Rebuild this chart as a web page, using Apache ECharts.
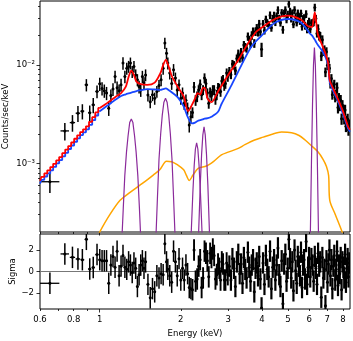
<!DOCTYPE html>
<html>
<head>
<meta charset="utf-8">
<script src="https://cdn.jsdelivr.net/npm/echarts@6/dist/echarts.min.js"></script>
<style>
  html, body { margin: 0; padding: 0; background: #fff; }
  #chart { width: 353px; height: 341px; }
</style>
</head>
<body>
<div id="chart"></div>
<script>
// spectrum bins: centre energy (keV), half width (keV), rate (1e-3 counts/sec/keV), error, residual (sigma)
var energy = [
  0.653, 0.742, 0.792, 0.830, 0.862, 0.892, 0.918, 0.946, 0.977,
  1.00, 1.02, 1.04, 1.06, 1.08, 1.10, 1.12, 1.14, 1.16, 1.18, 1.20, 1.22, 1.24, 1.26, 1.28, 1.30, 1.32, 1.34, 1.36, 1.38, 1.40, 1.42, 1.44, 1.46, 1.48,
  1.51, 1.54, 1.57, 1.60, 1.63, 1.66, 1.69, 1.72, 1.745, 1.77, 1.79, 1.82, 1.85, 1.88, 1.91, 1.94, 1.97, 2.00, 2.03, 2.06, 2.09, 2.12, 2.15, 2.18,
  2.21, 2.24, 2.27, 2.30, 2.33, 2.36, 2.39, 2.42, 2.45, 2.48, 2.51, 2.54, 2.57, 2.60, 2.63, 2.66, 2.69, 2.72, 2.75, 2.78, 2.81, 2.84, 2.87, 2.90, 2.93, 2.96, 2.99,
  3.03, 3.07, 3.11, 3.15, 3.19, 3.23, 3.27, 3.31, 3.35, 3.39, 3.43, 3.47, 3.51, 3.55, 3.59, 3.63, 3.67, 3.71, 3.75, 3.79, 3.83, 3.87, 3.91, 3.95, 3.99,
  4.04, 4.09, 4.14, 4.19, 4.24, 4.29, 4.34, 4.39, 4.44, 4.49, 4.54, 4.59, 4.64, 4.69, 4.74, 4.79, 4.84, 4.89, 4.94, 4.99,
  5.04, 5.09, 5.14, 5.19, 5.24, 5.29, 5.34, 5.39, 5.44, 5.49, 5.54, 5.59, 5.64, 5.69, 5.74, 5.79, 5.84, 5.89, 5.94, 5.99,
  6.05, 6.11, 6.17, 6.23, 6.29, 6.35, 6.41, 6.47, 6.53, 6.59, 6.65, 6.71, 6.77, 6.83, 6.89, 6.95, 7.01, 7.07, 7.13, 7.19, 7.25,
  7.31, 7.37, 7.43, 7.49, 7.55, 7.61, 7.67, 7.73, 7.79, 7.85, 7.91, 7.97, 8.03, 8.09, 8.15, 8.21, 8.27, 8.33, 8.39, 8.45
];
var eHalf = [
  0.055, 0.027, 0.018, 0.016, 0.014, 0.013, 0.012, 0.013, 0.014,
  0.01, 0.01, 0.01, 0.01, 0.01, 0.01, 0.01, 0.01, 0.01, 0.01, 0.01, 0.01, 0.01, 0.01, 0.01, 0.01, 0.01, 0.01, 0.01, 0.01, 0.01, 0.01, 0.01, 0.01, 0.01,
  0.013, 0.013, 0.013, 0.013, 0.013, 0.013, 0.013, 0.013, 0.013, 0.013, 0.013, 0.013, 0.013, 0.013, 0.013, 0.013, 0.013, 0.013, 0.013, 0.013, 0.013, 0.013, 0.013, 0.013,
  0.012, 0.012, 0.012, 0.012, 0.012, 0.012, 0.012, 0.012, 0.012, 0.012, 0.012, 0.012, 0.012, 0.012, 0.012, 0.012, 0.012, 0.012, 0.012, 0.012, 0.012, 0.012, 0.012, 0.012, 0.012, 0.012, 0.012,
  0.015, 0.015, 0.015, 0.015, 0.015, 0.015, 0.015, 0.015, 0.015, 0.015, 0.015, 0.015, 0.015, 0.015, 0.015, 0.015, 0.015, 0.015, 0.015, 0.015, 0.015, 0.015, 0.015, 0.015, 0.015,
  0.02, 0.02, 0.02, 0.02, 0.02, 0.02, 0.02, 0.02, 0.02, 0.02, 0.02, 0.02, 0.02, 0.02, 0.02, 0.02, 0.02, 0.02, 0.02, 0.02,
  0.02, 0.02, 0.02, 0.02, 0.02, 0.02, 0.02, 0.02, 0.02, 0.02, 0.02, 0.02, 0.02, 0.02, 0.02, 0.02, 0.02, 0.02, 0.02, 0.02,
  0.025, 0.025, 0.025, 0.025, 0.025, 0.025, 0.025, 0.025, 0.025, 0.025, 0.025, 0.025, 0.025, 0.025, 0.025, 0.025, 0.025, 0.025, 0.025, 0.025, 0.025,
  0.025, 0.025, 0.025, 0.025, 0.025, 0.025, 0.025, 0.025, 0.025, 0.025, 0.025, 0.025, 0.025, 0.025, 0.025, 0.025, 0.025, 0.025, 0.025, 0.025
];
var counts = [
  0.65, 2.14, 2.6, 3.24, 3.4, 6.3, 3.28, 3.94, 5.4,
  6.45, 5.8, 5.5, 5.2, 3.64, 4.9, 5.7, 7.65, 5.9, 5.5, 6.3, 10.5, 7.65, 9.3, 9.7, 10.5, 8.6, 9.7, 7.95, 7.1, 6.05, 5.6, 7.65, 6.6, 7.95,
  4.97, 4.25, 5.0, 4.6, 5.4, 6.2, 7.1, 9.3, 16.8, 13.2, 10.5, 8.3, 6.5, 9.0, 7.4, 5.6, 6.3, 4.6, 5.2, 4.1, 4.4, 3.64, 2.46, 2.98,
  3.3, 6.0, 4.4, 4.8, 5.6, 6.4, 5.0, 5.6, 7.4, 6.5, 5.2, 4.1, 5.3, 4.9, 5.6, 5.6, 4.5, 5.0, 5.9, 5.8, 5.4, 6.9, 7.1, 6.2, 6.5, 8.3, 7.65,
  8.7, 8.0, 10.3, 10.0, 8.8, 11.7, 13.1, 11.8, 13.6, 11.9, 16.0, 15.3, 14.9, 19.6, 18.1, 16.6, 20.1, 22.0, 16.7, 22.0, 23.9, 21.7, 26.3, 21.9, 14.5,
  26.4, 22.5, 29.3, 26.9, 25.8, 32.3, 24.1, 29.7, 32.1, 27.5, 31.6, 36.4, 29.9, 27.1, 34.1, 23.0, 33.7, 36.4, 29.3, 32.8,
  42.0, 35.2, 29.9, 33.9, 26.1, 36.5, 30.9, 27.3, 33.8, 30.9, 28.2, 33.7, 24.7, 29.6, 30.3, 25.3, 33.2, 23.2, 26.4, 27.9,
  23.3, 26.9, 26.9, 27.4, 38.7, 29.8, 21.0, 23.4, 20.0, 19.6, 12.4, 18.1, 13.9, 14.3, 8.5, 13.7, 10.0, 10.8, 9.3, 6.5, 7.3,
  5.0, 6.0, 6.4, 4.7, 5.0, 5.9, 3.7, 4.6, 3.9, 4.4, 2.84, 3.9, 3.5, 2.86, 3.5, 2.39, 2.7, 2.83, 2.2, 2.48
];
var countErr = [
  0.15, 0.43, 0.5, 0.6, 0.6, 0.9, 0.6, 0.7, 0.8,
  1.0, 0.9, 0.85, 0.8, 0.6, 0.75, 0.85, 1.1, 0.9, 0.85, 0.95, 1.5, 1.1, 1.3, 1.35, 1.45, 1.2, 1.35, 1.1, 1.0, 0.9, 0.85, 1.1, 0.95, 1.1,
  0.7, 0.6, 0.7, 0.65, 0.75, 0.85, 1.0, 1.3, 2.2, 1.8, 1.45, 1.15, 0.9, 1.25, 1.0, 0.8, 0.85, 0.65, 0.72, 0.6, 0.62, 0.52, 0.4, 0.45,
  0.42, 0.75, 0.55, 0.6, 0.65, 0.75, 0.6, 0.65, 0.85, 0.75, 0.6, 0.5, 0.63, 0.58, 0.65, 0.65, 0.55, 0.6, 0.68, 0.68, 0.64, 0.8, 0.82, 0.72, 0.76, 0.95, 0.88,
  0.87, 0.8, 1.0, 1.0, 0.88, 1.15, 1.3, 1.2, 1.35, 1.2, 1.6, 1.5, 1.5, 1.9, 1.8, 1.65, 2.0, 2.2, 1.7, 2.2, 2.3, 2.15, 2.6, 2.2, 2.4,
  2.4, 2.0, 2.6, 2.4, 2.3, 2.9, 2.2, 2.7, 2.9, 2.5, 2.8, 3.3, 2.7, 2.4, 3.1, 2.1, 3.0, 3.3, 2.6, 3.0,
  3.6, 3.2, 2.7, 3.0, 2.3, 3.3, 2.8, 2.5, 3.0, 2.8, 2.5, 3.0, 2.2, 2.7, 2.7, 2.3, 3.0, 2.1, 2.4, 2.5,
  2.1, 2.4, 2.4, 2.5, 3.5, 2.7, 1.9, 2.6, 2.2, 2.2, 1.4, 2.0, 1.5, 1.6, 0.95, 1.5, 1.1, 1.2, 1.0, 0.72, 0.8,
  0.55, 0.66, 0.7, 0.52, 0.65, 0.77, 0.48, 0.6, 0.5, 0.57, 0.37, 0.5, 0.45, 0.37, 0.45, 0.31, 0.35, 0.37, 0.29, 0.32
];
var sigma = [
  -1.1, 1.64, 1.32, 1.17, 1.1, 3.0, 0.23, 0.38, 1.58,
  1.1, 1.0, 1.0, 1.0, -1.1, 0.6, 1.4, 0.4, 1.9, -0.4, 0.5, 1.5, 0.4, 0.2, 0.9, 0.6, -0.1, 0.8, 0.3, -1.4, -0.3, 0.6, 1.0, 0.3, 0.9,
  -1.2, -2.45, -1.6, -1.9, -0.4, -0.6, -0.2, -0.3, 2.6, 0.9, 0.2, -0.4, -1.0, 1.9, 0.9, -0.4, 1.2, -0.8, 0.3, -0.8, 0.6, -0.2, -1.5, -1.6,
  -1.7, 2.0, -0.9, -0.7, 0.5, 1.1, -1.5, -0.6, 1.9, 1.7, 1.0, -0.5, 1.7, 1.3, 2.1, 1.5, -0.7, -0.3, 0.7, 0.3, -0.8, 0.9, 0.7, -0.8, -0.8, 0.8, -0.3,
  0.5, -0.8, 1.2, 0.3, -1.4, 0.9, 1.6, -0.2, 0.7, -1.1, 1.3, 0.2, -0.6, 1.8, 0.4, -0.9, 0.6, 1.1, -1.9, 0.3, 0.8, -0.4, 1.4, -0.7, -3.4,
  0.8, -1.2, 1.5, 0.2, -0.5, 1.9, -1.6, 0.4, 1.1, -0.8, 0.6, 2.2, -0.3, -1.4, 1.0, -3.0, 0.7, 1.6, -0.9, 0.3,
  3.0, 1.2, -0.6, 0.9, -1.8, 2.0, 0.1, -1.1, 1.4, 0.5, -0.4, 1.8, -1.5, 0.6, 1.1, -0.7, 2.8, -1.2, 0.4, 1.3,
  -0.5, 1.2, 0.6, -0.9, 1.4, 0.3, -1.2, 1.7, 0.5, 0.9, -2.4, 1.3, -0.6, 0.2, -3.2, 1.0, -1.0, 0.7, 2.0, -0.4, 1.1,
  -1.6, 0.5, 1.5, -0.8, 0.2, 1.9, -1.3, 0.6, -0.2, 1.3, -1.7, 0.9, 0.4, -0.6, 1.6, -1.0, 0.3, 1.2, -0.5, 0.8
];

// model components (1e-3 counts/sec/keV)
var modelE = [0.60, 0.615, 0.63, 0.647, 0.663, 0.68, 0.698, 0.716, 0.735, 0.754, 0.773, 0.793, 0.814, 0.835, 0.856, 0.878, 0.90, 0.925, 0.95, 0.975, 1.0,
  1.05, 1.1, 1.15, 1.2, 1.25, 1.28, 1.31, 1.34, 1.37, 1.42, 1.5, 1.6, 1.68, 1.72, 1.76, 1.8, 1.85, 1.95, 2.05, 2.13, 2.2, 2.26, 2.31, 2.36, 2.41, 2.45, 2.52, 2.6, 2.75,
  3.0, 3.27, 3.56, 3.82, 3.99, 4.47, 5.01, 5.6, 6.03, 6.15, 6.22, 6.29, 6.36, 6.46, 6.7, 6.9, 7.05, 7.15, 7.4, 7.7, 8.0, 8.37, 8.5];
var totalModel = [0.665, 0.73, 0.79, 0.85, 0.916, 0.99, 1.07, 1.16, 1.27, 1.38, 1.50, 1.63, 1.78, 1.93, 2.08, 2.22, 2.38, 2.65, 2.95, 3.3, 3.66,
  4.0, 4.4, 4.8, 5.2, 6.05, 7.6, 8.8, 7.9, 6.8, 6.4, 6.3, 6.65, 8.3, 10.0, 11.3, 9.8, 7.8, 6.0, 4.8, 3.4, 3.94, 4.6, 5.2, 5.0, 5.8, 5.9, 4.5, 4.2, 5.4,
  7.95, 11.3, 16.8, 22.0, 24.0, 29.5, 31.9, 29.0, 24.5, 24.5, 29.0, 34.4, 28.0, 20.5, 16.0, 13.0, 10.5, 7.0, 5.6, 4.4, 3.4, 2.36, 2.2];
var contE = [0.60, 0.615, 0.63, 0.647, 0.663, 0.68, 0.698, 0.716, 0.735, 0.754, 0.773, 0.793, 0.814, 0.835, 0.856, 0.878, 0.90, 0.925, 0.95, 0.975, 1.0,
  1.05, 1.1, 1.15, 1.2, 1.25, 1.28, 1.31, 1.34, 1.37, 1.42, 1.5, 1.6, 1.68, 1.72, 1.76, 1.8, 1.85, 1.95, 2.05, 2.13, 2.2, 2.26, 2.31, 2.36, 2.41, 2.45, 2.52, 2.6, 2.75,
  2.83, 3.09, 3.36, 3.66, 3.99, 4.47, 5.01, 5.6, 6.03, 6.15, 6.22, 6.29, 6.36, 6.46, 6.7, 6.9, 7.05, 7.15, 7.4, 7.7, 8.0, 8.37, 8.5];
var continuum = [0.62, 0.68, 0.735, 0.79, 0.85, 0.92, 1.0, 1.08, 1.18, 1.28, 1.4, 1.52, 1.66, 1.8, 1.94, 2.07, 2.22, 2.47, 2.75, 3.07, 3.4,
  3.75, 4.1, 4.5, 4.85, 5.05, 5.15, 5.25, 5.35, 5.45, 5.55, 5.7, 5.65, 5.6, 5.7, 5.8, 5.6, 5.3, 4.7, 3.8, 2.9, 2.55, 2.6, 2.7, 2.75, 2.8, 2.85, 2.88, 2.98, 3.35,
  4.0, 6.3, 10.0, 15.5, 20.0, 27.0, 29.5, 27.0, 21.0, 20.0, 19.0, 18.2, 17.2, 16.0, 14.0, 12.0, 10.0, 6.7, 5.3, 4.2, 3.2, 2.25, 2.1];
var reflE = [0.95, 1.0, 1.09, 1.19, 1.3, 1.41, 1.5, 1.58, 1.67, 1.77, 1.85, 1.95, 2.05, 2.1, 2.15, 2.22, 2.32, 2.49, 2.65, 2.83, 3.0, 3.27, 3.46, 3.76,
  4.05, 4.34, 4.73, 5.16, 5.5, 5.79, 6.1, 6.46, 6.75, 6.95, 7.08, 7.15, 7.5, 7.95, 8.5];
var reflection = [0.15, 0.2, 0.3, 0.42, 0.51, 0.6, 0.68, 0.76, 0.86, 1.05, 1.04, 0.96, 0.86, 0.75, 0.67, 0.76, 0.89, 0.94, 1.05, 1.22, 1.3, 1.42, 1.55, 1.73,
  1.85, 1.97, 2.08, 2.05, 1.92, 1.73, 1.52, 1.31, 1.1, 0.93, 0.75, 0.42, 0.3, 0.2, 0.12];
var lineE = [
  [1.181, 1.206, 1.223, 1.239, 1.257, 1.274, 1.292, 1.31, 1.328, 1.347, 1.365, 1.385, 1.404, 1.423, 1.453],
  [1.583, 1.616, 1.638, 1.660, 1.684, 1.707, 1.731, 1.755, 1.779, 1.804, 1.829, 1.855, 1.880, 1.906, 1.946],
  [2.118, 2.156, 2.187, 2.217, 2.243, 2.266, 2.29, 2.314, 2.338, 2.366, 2.398, 2.432, 2.476],
  [2.257, 2.298, 2.330, 2.362, 2.390, 2.415, 2.44, 2.465, 2.491, 2.521, 2.555, 2.591, 2.638],
  [5.919, 6.002, 6.057, 6.113, 6.169, 6.220, 6.27, 6.321, 6.372, 6.431, 6.490, 6.550, 6.642]
];
var lineFlux = [
  [0.02, 0.15, 0.35, 0.75, 1.3, 1.9, 2.6, 2.83, 2.6, 1.9, 1.3, 0.75, 0.35, 0.15, 0.02],
  [0.02, 0.17, 0.45, 1.1, 2.0, 3.1, 4.2, 4.6, 4.2, 3.1, 2.0, 1.1, 0.45, 0.17, 0.02],
  [0.01, 0.05, 0.2, 0.5, 0.95, 1.4, 1.62, 1.4, 0.95, 0.5, 0.2, 0.05, 0.01],
  [0.01, 0.06, 0.2, 0.6, 1.25, 1.95, 2.36, 1.95, 1.25, 0.6, 0.2, 0.06, 0.01],
  [0.01, 0.06, 0.2, 1.0, 4.0, 10.0, 15.1, 10.0, 4.0, 1.0, 0.2, 0.06, 0.01]
];

// axes
var eMin = 0.6, eMax = 8.5;
var rateMin = 2e-4, rateMax = 4.5e-2;
var eLabels = [0.6, 0.8, 1, 2, 3, 4, 5, 6, 7, 8];
var eMinorTicks = [0.6, 0.7, 0.8, 0.9, 2, 3, 4, 5, 6, 7, 8];
var eMajorTicks = [1];
var rateMajor = [1e-3, 1e-2];
var rateMinor = [3e-4, 4e-4, 5e-4, 6e-4, 7e-4, 8e-4, 9e-4, 2e-3, 3e-3, 4e-3, 5e-3, 6e-3, 7e-3, 8e-3, 9e-3, 2e-2, 3e-2, 4e-2];
var sigmaTicks = [-2, 0, 2];

function lg(v) { return Math.log(v) / Math.LN10; }

var pts = [], res = [];
for (var i = 0; i < energy.length; i++) {
  var e = energy[i], c = counts[i] * 1e-3, ce = countErr[i] * 1e-3, de = eHalf[i];
  pts.push([lg(e), lg(c), lg(e - de), lg(e + de), lg(Math.max(c - ce, 1e-6)), lg(c + ce)]);
  res.push([lg(e), sigma[i], lg(e - de), lg(e + de), sigma[i] - 1, sigma[i] + 1]);
}

function curve(es, vs, lo, hi) {
  var out = [];
  for (var k = 0; k < es.length; k++) {
    if (es[k] >= lo && es[k] <= hi) out.push([lg(es[k]), lg(vs[k] * 1e-3)]);
  }
  return out;
}

// error bars; the crowded high-energy bins get a slightly heavier stroke
function errBar(params, api) {
  var p = api.coord([api.value(0), api.value(1)]);
  var xl = api.coord([api.value(2), api.value(1)]);
  var xh = api.coord([api.value(3), api.value(1)]);
  var yl = api.coord([api.value(0), api.value(4)]);
  var yh = api.coord([api.value(0), api.value(5)]);
  var w = api.value(0) > lg(3.0) ? 2.2 : (api.value(0) > lg(2.2) ? 1.9 : 1.5);
  return {
    type: 'group',
    children: [
      { type: 'line', shape: { x1: xl[0], y1: p[1], x2: xh[0], y2: p[1] }, style: { stroke: '#000', lineWidth: 1.3 } },
      { type: 'line', shape: { x1: p[0], y1: yl[1], x2: p[0], y2: yh[1] }, style: { stroke: '#000', lineWidth: w } },
      { type: 'circle', shape: { cx: p[0], cy: p[1], r: 1.5 }, style: { fill: '#000' } }
    ]
  };
}

var font = 'DejaVu Sans';
var txt = { color: '#000', fontFamily: font, fontSize: 8.5 };
var sup = { '-2': '10\u207B\u00B2', '-3': '10\u207B\u00B3' };

function xAxisOf(grid, withLabels, minor) {
  return {
    type: 'value', gridIndex: grid, position: 'bottom',
    min: lg(eMin), max: lg(eMax),
    axisLine: { show: false, onZero: false }, splitLine: { show: false },
    axisTick: { show: true, length: minor ? 2 : 3.5, customValues: (minor ? eMinorTicks : eMajorTicks).map(lg), lineStyle: { color: '#000', width: 0.8 } },
    axisLabel: {
      show: withLabels && !minor, margin: 6, color: '#000', fontFamily: font, fontSize: 8.5,
      customValues: eLabels.map(lg),
      formatter: function (v) { var x = Math.pow(10, v); return x < 1 ? x.toFixed(1) : String(Math.round(x)); }
    },
    name: withLabels && !minor ? 'Energy (keV)' : '', nameLocation: 'middle', nameGap: 20, nameTextStyle: txt, nameMoveOverlap: false
  };
}

function modelLine(name, data, color, width, z, opts) {
  var s = { type: 'line', name: name, xAxisIndex: 0, yAxisIndex: 0, data: data, showSymbol: false, lineStyle: { color: color, width: width }, z: z };
  for (var key in opts) s[key] = opts[key];
  return s;
}

var purple = '#8b2a9b';
var chart = echarts.init(document.getElementById('chart'));
chart.setOption({
  animation: false,
  backgroundColor: '#fff',
  grid: [
    { left: 40, top: 1, width: 310, height: 231, containLabel: false, outerBoundsMode: 'none', show: true, borderColor: '#000', borderWidth: 1, backgroundColor: 'transparent' },
    { left: 40, top: 234, width: 310, height: 75, containLabel: false, outerBoundsMode: 'none', show: true, borderColor: '#000', borderWidth: 1, backgroundColor: 'transparent' }
  ],
  xAxis: [xAxisOf(0, false, false), xAxisOf(0, false, true), xAxisOf(1, true, false), xAxisOf(1, true, true)],
  yAxis: [
    {
      type: 'value', gridIndex: 0, position: 'left', min: lg(rateMin), max: lg(rateMax),
      axisLine: { show: false, onZero: false }, splitLine: { show: false },
      axisTick: { length: 3.5, customValues: rateMajor.map(lg), lineStyle: { color: '#000', width: 0.8 } },
      axisLabel: {
        margin: 5, color: '#000', fontFamily: font, fontSize: 8.5, customValues: rateMajor.map(lg),
        formatter: function (v) { return sup[String(Math.round(v))]; }
      },
      name: 'Counts/sec/keV', nameLocation: 'middle', nameGap: 30, nameTextStyle: txt, nameMoveOverlap: false
    },
    {
      type: 'value', gridIndex: 0, position: 'left', min: lg(rateMin), max: lg(rateMax),
      axisLine: { show: false, onZero: false }, splitLine: { show: false },
      axisTick: { length: 2, customValues: rateMinor.map(lg), lineStyle: { color: '#000', width: 0.8 } },
      axisLabel: { show: false }
    },
    {
      type: 'value', gridIndex: 1, position: 'left', min: -3.5, max: 3.5,
      axisLine: { show: false, onZero: false }, splitLine: { show: false },
      axisTick: { length: 3.5, customValues: sigmaTicks, lineStyle: { color: '#000', width: 0.8 } },
      axisLabel: {
        margin: 6, color: '#000', fontFamily: font, fontSize: 8.5, customValues: sigmaTicks,
        formatter: function (v) { return v < 0 ? '\u2212' + (-v) : String(v); }
      },
      name: 'Sigma', nameLocation: 'middle', nameGap: 23, nameTextStyle: txt, nameMoveOverlap: false
    }
  ],
  series: [
    { type: 'custom', name: 'data', xAxisIndex: 0, yAxisIndex: 0, renderItem: errBar, data: pts, clip: true, z: 2, encode: { x: 0, y: 1 } },
    modelLine('continuum-low', curve(contE, continuum, 0, 1.0), '#1846ff', 1.8, 3, { step: 'middle' }),
    modelLine('continuum', curve(contE, continuum, 0.99, 9), '#1846ff', 1.8, 3, { smooth: 0.3 }),
    modelLine('total-low', curve(modelE, totalModel, 0, 1.0), '#ff0000', 1.8, 4, { step: 'middle' }),
    modelLine('total', curve(modelE, totalModel, 0.99, 9), '#ff0000', 1.8, 4, { smooth: 0.3 }),
    modelLine('reflection', curve(reflE, reflection, 0, 9), '#ffa500', 1.5, 3, { smooth: 0.3 }),
    modelLine('line1', curve(lineE[0], lineFlux[0], 0, 9), purple, 1.2, 3, {}),
    modelLine('line2', curve(lineE[1], lineFlux[1], 0, 9), purple, 1.2, 3, {}),
    modelLine('line3', curve(lineE[2], lineFlux[2], 0, 9), purple, 1.2, 3, {}),
    modelLine('line4', curve(lineE[3], lineFlux[3], 0, 9), purple, 1.2, 3, {}),
    modelLine('line5', curve(lineE[4], lineFlux[4], 0, 9), purple, 1.2, 3, {}),
    { type: 'line', name: 'zero', xAxisIndex: 2, yAxisIndex: 2, data: [[lg(eMin), 0], [lg(eMax), 0]], showSymbol: false, lineStyle: { color: '#777', width: 1 }, z: 1 },
    { type: 'custom', name: 'residuals', xAxisIndex: 2, yAxisIndex: 2, renderItem: errBar, data: res, clip: true, z: 2, encode: { x: 0, y: 1 } }
  ]
});
</script>
</body>
</html>
